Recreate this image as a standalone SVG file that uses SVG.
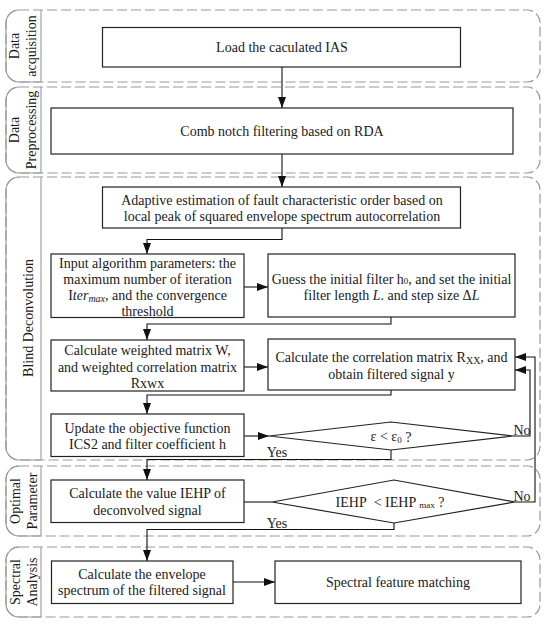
<svg xmlns="http://www.w3.org/2000/svg" width="550" height="625" viewBox="0 0 550 625">
<style>
.band{fill:none;stroke:#999;stroke-width:1.2;stroke-dasharray:10 4}
.edge{fill:none;stroke:#999;stroke-width:1.1}
.box{fill:#fff;stroke:#222;stroke-width:1.2}
.c{fill:none;stroke:#111;stroke-width:1.1}
.t{font-family:"Liberation Serif","Times New Roman",serif;font-size:14px;fill:#1a1a1a;text-anchor:middle;dominant-baseline:central}
.lab{font-family:"Liberation Serif","Times New Roman",serif;font-size:14px;fill:#1a1a1a}
</style>
<defs>
<marker id="ah" markerUnits="userSpaceOnUse" markerWidth="12" markerHeight="9" refX="11" refY="4" orient="auto">
<path d="M0,0 L11,4 L0,8 z" fill="#111"/>
</marker>
</defs>
<rect width="550" height="625" fill="#fff"/>

<g id="lanes">
<g id="lane-acquisition">
<rect class="band" x="6" y="10" width="534" height="72" rx="13"/>
<path class="edge" d="M19,10 A13,13 0 0 0 6,23 L6,69 A13,13 0 0 0 19,82 L41,82 M41,10 L41,82"/>
<text class="t" transform="translate(14,46) rotate(-90)">Data</text>
<text class="t" transform="translate(31,46) rotate(-90)">acquisition</text>
</g>
<g id="lane-preprocessing">
<rect class="band" x="6" y="87" width="534" height="86" rx="13"/>
<path class="edge" d="M19,87 A13,13 0 0 0 6,100 L6,160 A13,13 0 0 0 19,173 L41,173 M41,87 L41,173"/>
<text class="t" transform="translate(14,130) rotate(-90)">Data</text>
<text class="t" transform="translate(31,130) rotate(-90)">Preprocessing</text>
</g>
<g id="lane-deconvolution">
<rect class="band" x="6" y="177" width="534" height="283" rx="13"/>
<path class="edge" d="M19,177 A13,13 0 0 0 6,190 L6,447 A13,13 0 0 0 19,460 L41,460 M41,177 L41,460"/>
<text class="t" transform="translate(28,318) rotate(-90)">Blind Deconvolution</text>
</g>
<g id="lane-optimal">
<rect class="band" x="6" y="466" width="534" height="70" rx="13"/>
<path class="edge" d="M19,466 A13,13 0 0 0 6,479 L6,523 A13,13 0 0 0 19,536 L41,536 M41,466 L41,536"/>
<text class="t" transform="translate(15,501) rotate(-90)">Optimal</text>
<text class="t" transform="translate(32,501) rotate(-90)">Parameter</text>
</g>
<g id="lane-spectral">
<rect class="band" x="6" y="547" width="534" height="70" rx="13"/>
<path class="edge" d="M19,547 A13,13 0 0 0 6,560 L6,604 A13,13 0 0 0 19,617 L41,617 M41,547 L41,617"/>
<text class="t" transform="translate(15,582) rotate(-90)">Spectral</text>
<text class="t" transform="translate(32,582) rotate(-90)">Analysis</text>
</g>
</g>

<g id="connectors">
<line class="c" x1="282" y1="67" x2="282" y2="108" marker-end="url(#ah)"/>
<line class="c" x1="282" y1="154" x2="282" y2="187" marker-end="url(#ah)"/>
<polyline class="c" points="282,228 282,239.5 147,239.5 147,254" marker-end="url(#ah)"/>
<line class="c" x1="244" y1="287" x2="268" y2="287" marker-end="url(#ah)"/>
<polyline class="c" points="391,317 391,324 147,324 147,340" marker-end="url(#ah)"/>
<line class="c" x1="244" y1="367" x2="268" y2="367" marker-end="url(#ah)"/>
<polyline class="c" points="391,390 391,395 147,395 147,414" marker-end="url(#ah)"/>
<line class="c" x1="244" y1="436" x2="269" y2="436" marker-end="url(#ah)"/>
<polyline class="c" points="513,436 530,436 530,370 515,370" marker-end="url(#ah)"/>
<polyline class="c" points="391,450 391,459.5 147,459.5 147,480" marker-end="url(#ah)"/>
<line class="c" x1="244" y1="502" x2="272" y2="502"/>
<polyline class="c" points="515,502 535,502 535,357 515,357" marker-end="url(#ah)"/>
<polyline class="c" points="394,523 394,529.5 147,529.5 147,561" marker-end="url(#ah)"/>
<line class="c" x1="233" y1="582" x2="275" y2="582" marker-end="url(#ah)"/>
<text class="lab" x="522" y="430" text-anchor="middle" dominant-baseline="central">No</text>
<text class="lab" x="277" y="452.5" text-anchor="middle" dominant-baseline="central">Yes</text>
<text class="lab" x="522" y="496" text-anchor="middle" dominant-baseline="central">No</text>
<text class="lab" x="277" y="523" text-anchor="middle" dominant-baseline="central">Yes</text>
</g>

<g id="load">
<rect class="box" x="102.5" y="27.5" width="358" height="39.5"/>
<text class="t" x="282" y="47.5">Load the caculated IAS</text>
</g>
<g id="comb">
<rect class="box" x="51" y="108" width="462" height="46"/>
<text class="t" x="282" y="131">Comb notch filtering based on RDA</text>
</g>
<g id="adaptive">
<rect class="box" x="102.5" y="187" width="358" height="41"/>
<text class="t" x="282" y="200.5">Adaptive estimation of fault characteristic order based on</text>
<text class="t" x="282" y="216.5">local peak of squared envelope spectrum autocorrelation</text>
</g>
<g id="input">
<rect class="box" x="51" y="254" width="193" height="63.5"/>
<text class="t" x="147.5" y="263">Input algorithm parameters: the</text>
<text class="t" x="147.5" y="279">maximum number of iteration</text>
<text class="t" x="147.5" y="295">I<tspan font-style="italic">ter</tspan><tspan font-style="italic" font-size="10" dy="3">max</tspan><tspan dy="-3">, and the convergence</tspan></text>
<text class="t" x="147.5" y="311">threshold</text>
</g>
<g id="guess">
<rect class="box" x="268" y="254" width="247" height="63"/>
<text class="t" x="391.5" y="279">Guess the initial filter h<tspan font-size="9" dy="2">0</tspan><tspan dy="-2">, and set the initial</tspan></text>
<text class="t" x="391.5" y="295">filter length <tspan font-style="italic">L</tspan>. and step size Δ<tspan font-style="italic">L</tspan></text>
</g>
<g id="weighted">
<rect class="box" x="51" y="340" width="193" height="51"/>
<text class="t" x="147.5" y="350.5">Calculate weighted matrix W,</text>
<text class="t" x="147.5" y="367">and weighted correlation matrix</text>
<text class="t" x="147.5" y="383.5">Rxwx</text>
</g>
<g id="correlation">
<rect class="box" x="268" y="339" width="247" height="51"/>
<text class="t" x="391.5" y="357">Calculate the correlation matrix R<tspan font-size="10" dy="3">XX</tspan><tspan dy="-3">, and</tspan></text>
<text class="t" x="391.5" y="374">obtain filtered signal y</text>
</g>
<g id="update">
<rect class="box" x="51" y="414" width="193" height="42.5"/>
<text class="t" x="147.5" y="428">Update the objective function</text>
<text class="t" x="147.5" y="444">ICS2 and filter coefficient h</text>
</g>
<g id="epsilon-check">
<polygon class="box" points="269,436 391,422 513,436 391,450"/>
<text class="t" x="391" y="436.5">ε &lt; ε<tspan font-size="9" dy="3">0</tspan><tspan dy="-3"> ?</tspan></text>
</g>
<g id="iehp">
<rect class="box" x="51" y="480" width="193" height="42.5"/>
<text class="t" x="147.5" y="493.5">Calculate the value IEHP of</text>
<text class="t" x="147.5" y="510">deconvolved signal</text>
</g>
<g id="iehp-check">
<polygon class="box" points="272,502 394,480 515,502 394,523"/>
<text class="t" x="390" y="502">IEHP&#160; &lt; IEHP <tspan font-size="9" dy="3">max</tspan><tspan dy="-3"> ?</tspan></text>
</g>
<g id="envelope">
<rect class="box" x="51.5" y="561" width="181.5" height="42.5"/>
<text class="t" x="142" y="574.5">Calculate the envelope</text>
<text class="t" x="142" y="590.5">spectrum of the filtered signal</text>
</g>
<g id="matching">
<rect class="box" x="275" y="561" width="246" height="42.5"/>
<text class="t" x="398" y="582">Spectral feature matching</text>
</g>
</svg>
